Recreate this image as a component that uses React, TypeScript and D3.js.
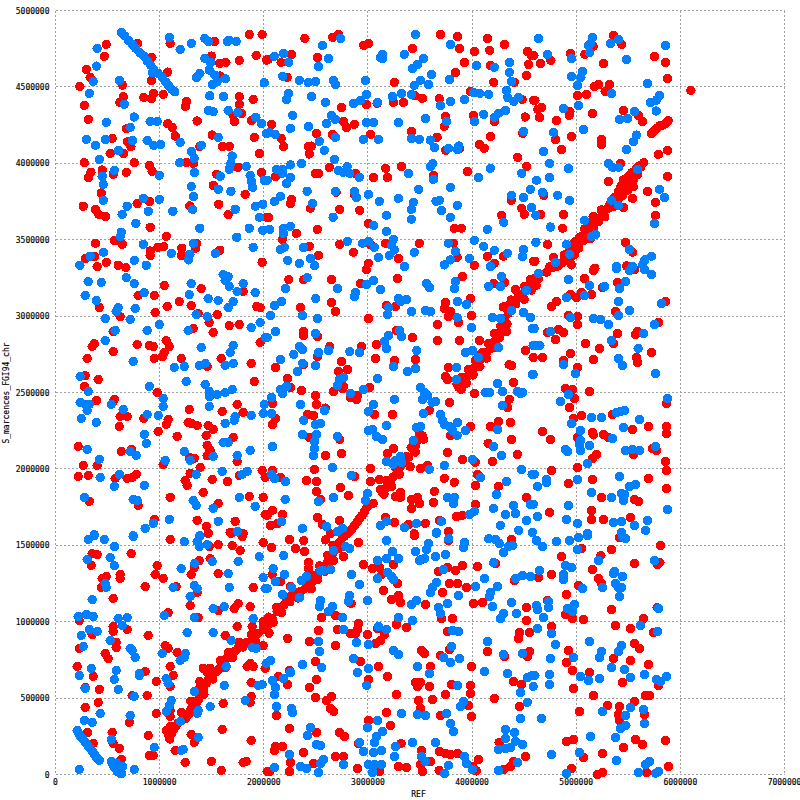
import { useEffect, useRef } from "react";
import * as d3 from "d3";

type Pt = [number, number];

// all values below are in kb (REF position, query position)
const xTicks = [0, 1000000, 2000000, 3000000, 4000000, 5000000, 6000000, 7000000];
const yTicks = [0, 500000, 1000000, 1500000, 2000000, 2500000, 3000000, 3500000, 4000000, 4500000, 5000000];
const xTitle = "REF";
const yTitle = "S_marcences_FGI94_chr";

const redDiagonal: Pt[] = [[5649,4004],[5605,3982],[5563,3945],[5531,3913],[5499,3880],[5467,3847],[5425,3815],[5387,3782],[5349,3745],[5307,3706],[5259,3673],[5195,3640],[5147,3596],[5099,3553],[5051,3520],[5003,3466],[4955,3422],[4907,3389],[4859,3346],[4811,3324],[5547,3847],[5451,3891],[5163,3651],[4955,3335],[4747,3324],[5520,3860],[5480,3830],[5410,3775],[5120,3570],[5075,3530],[5025,3490],[4980,3440],[4930,3400],[4880,3360],[4830,3330],
[4779,3320],[4715,3287],[4635,3244],[4587,3211],[4592,3244],[4544,3200],[4480,3135],[4400,3102],[4336,3047],[4310,2982],[4304,2917],[4240,2851],[4176,2786],[4112,2742],[4048,2688],[3984,2633],[3920,2579],[3872,2535],[3952,2601],[4144,2764],[4208,2830],[4272,2895],[4438,3113],[4510,3170],[4360,3075],[4080,2715],[4015,2660],[3895,2556],
[3520,2219],[3472,2186],[3434,2132],[3392,2077],[3328,2034],[3280,1990],[3242,1947],[3200,1903],[3136,1849],[3168,1870],[3450,2160],[3360,2056],[3305,2012],[3220,1925],
[2992,1750],[2944,1696],[2896,1652],[2848,1609],[2800,1576],[2970,1725],[2920,1675],[2872,1630],[2825,1590],[2775,1560],[2752,1546],[2720,1514],[2688,1492],[2640,1415],[2608,1383],[2592,1535],[2560,1350],[2528,1322],[2496,1296],[2464,1263],[2432,1230],[2400,1219],[2352,1197],[2304,1165],[2256,1165],[2224,1143],[2192,1110],[2160,1088],[2128,1067],[2080,1023],[2032,969],[2665,1450],[2580,1365],[2515,1310],[2450,1245],
[2026,958],[1994,947],[1946,925],[1898,881],[1834,864],[1786,860],[1754,827],[1722,805],[1674,783],[1642,761],[1610,729],[1578,696],[1546,674],[1498,652],[1482,696],[1466,620],[1450,598],[1424,554],[1418,696],[1402,522],[1386,609],[1370,489],[1354,467],[1322,456],[1290,413],[1274,391],[1232,376],[1178,336],[1130,293],[1104,315],[1098,232],[1066,288],[1085,260],[1115,270],[1150,312],[1205,352],[1255,395],[1305,435],[1345,480]];

// the thicker parts of the diagonal band, read from its edges
const redDiagonalEdges: Pt[] = [[5620,3975],[5575,3965],[5590,3925],[5535,3940],[5550,3890],[5500,3915],[5525,3850],[5455,3860],[5495,3825],[5430,3850],[5445,3790],[5405,3815],[5395,3750],[5365,3775],[5355,3715],[5325,3735],[5275,3650],[5240,3695],[5215,3620],[5170,3650],[5165,3575],[5125,3610],[5120,3535],[5080,3570],[5070,3495],[5030,3515],[5025,3445],[4985,3485],[4980,3400],[4935,3440],[4930,3365],[4885,3400],
[4615,3200],[4560,3240],[4570,3170],[4505,3195],[4500,3110],[4450,3140],[4420,3080],[4375,3105],[4350,3020],[4300,3060],[4335,2950],[4285,2985],[4330,2900],[4275,2935],[4265,2860],[4215,2885],[4205,2795],[4155,2820],[4140,2725],[4095,2760],[4075,2670],[4030,2710],[4010,2615],[3965,2650],[3945,2560],[3900,2600],[3895,2520],[3855,2555],
[3535,2195],[3495,2225],[3455,2110],[3415,2140],[3405,2015],[3365,2080],[3300,1965],[3260,2010],[3225,1885],[3180,1925],[3155,1835],[3120,1865],
[2720,1480],[2665,1500],[2670,1400],[2615,1435],[2585,1330],[2535,1365],[2515,1275],[2470,1305],[2455,1215],[2415,1245],[2330,1155],[2300,1190],[2250,1130],[2210,1160],[2170,1060],[2125,1095],[2090,995],[2045,1030],
[2050,925],[2000,980],[1920,870],[1880,915],[1800,835],[1760,865],[1700,765],[1660,800],[1630,700],[1585,745],[1510,625],[1460,665],[1425,525],[1385,565],[1345,440],[1300,480],[1250,365],[1210,405]];

const redUpperLeft: Pt[] = [[1860,4843],[1984,4843],[1527,4798],[1101,4785],[788,4785],[487,4778],[468,4700],[925,4693],[1498,4702],[1927,4706],[1764,4673],[1578,4654],[1636,4660],[2026,4676],[295,4615],[333,4562],[1076,4597],[1578,4571],[922,4543],[234,4503],[644,4512],[650,4436],[618,4399],[848,4431],[922,4423],[944,4458],[1034,4451],[1258,4405],[1248,4373],[276,4379],[1764,4436],[1764,4386],[1898,4418],[314,4288],[1786,4327],[1706,4312],[1719,4272],[1360,4277],[1079,4259],[1120,4235],[682,4226],[1882,4279],[1149,4179],[1504,4185],[1908,4170],[544,4163],[692,4141],[724,4109],[1604,4111],[1668,4111],[1386,4109],[525,4065],[653,4063],[1959,4065],[276,4004],[756,4004],[1258,4004],[1325,4000],[900,3987],[928,3947],[448,3956],[340,3941],[314,3906],[554,3928],[679,3941],[1978,3941],[1751,3974],[1549,3928],[1514,3856],[439,3806],[1821,3797],[903,3751],[784,3736],[266,3719],[1568,3732],[1290,3721],[384,3699],[416,3666],[480,3651],[1658,3664],[2026,3647],[909,3581],[1063,3522],[564,3494],[384,3477],[640,3470],[1354,3477],[1344,3444],[983,3450],[1040,3455],[909,3426],[909,3396],[1213,3444],[1207,3396],[1578,3431],[288,3378],[375,3389],[487,3352],[1984,3352],[400,3324],[602,3333],[676,3318]];

const redUpperMiddle: Pt[] = [[2394,4817],[2662,4824],[2717,4843],[2960,4772],[3005,4785],[3696,4843],[3859,4830],[4147,4817],[4310,4778],[3427,4752],[3878,4752],[4022,4732],[4170,4739],[4531,4732],[4570,4706],[2266,4713],[2515,4693],[2042,4680],[2166,4660],[3926,4660],[4176,4641],[4544,4647],[3840,4595],[2224,4562],[4522,4575],[3254,4530],[4208,4530],[4406,4530],[3984,4471],[3453,4442],[3523,4425],[3686,4423],[2986,4386],[3088,4392],[3245,4399],[3341,4399],[4480,4418],[4592,4412],[2746,4366],[2077,4255],[2765,4274],[2794,4235],[2870,4255],[3744,4307],[3734,4242],[4013,4314],[4214,4274],[4512,4303],[3418,4209],[2506,4196],[2659,4189],[3027,4189],[3664,4170],[4176,4176],[4486,4196],[2166,4163],[2192,4109],[2429,4111],[2458,4113],[2438,4061],[4070,4124],[4118,4098],[3747,4085],[3882,4098],[4438,4039],[2630,3974],[3171,3967],[3322,3980],[4525,3980],[2496,3934],[2528,3934],[2880,3934],[3955,3947],[2112,3913],[3053,3908],[3187,3908],[3629,3921],[2694,3810],[2874,3793],[2256,3738],[2269,3764],[4378,3758],[2448,3706],[2730,3699],[2922,3692],[4477,3706],[4502,3666],[2048,3647],[4285,3660],[3005,3607],[2515,3568],[2314,3542],[3830,3575],[3898,3575],[2179,3503],[2438,3457],[2730,3470],[3168,3477],[3494,3477],[3821,3477],[3024,3470],[2861,3418],[2525,3398],[3293,3378],[3856,3385],[4147,3392],[4214,3346],[4301,3392],[4022,3333],[3005,3346],[4592,3359]];

const redUpperRight: Pt[] = [[5358,4837],[5438,4778],[5163,4765],[4945,4719],[5083,4713],[4593,4706],[5752,4700],[5857,4660],[4757,4673],[4657,4654],[5262,4654],[5877,4556],[5217,4516],[5173,4501],[5320,4516],[5278,4471],[6101,4477],[5013,4444],[5099,4451],[4603,4412],[4667,4366],[4632,4353],[4939,4338],[4933,4314],[4648,4301],[5157,4327],[5454,4346],[4811,4281],[5598,4314],[5637,4274],[4955,4176],[4801,4157],[5243,4157],[5243,4122],[4859,4091],[5877,4085],[5790,4059],[5425,4000],[5877,3915],[5310,3882],[5685,3817],[4689,3791],[5541,3771],[5761,3745],[5454,3712],[4657,3666],[4878,3666],[5761,3660],[4869,3575],[5137,3509],[4725,3470],[5473,3483],[5541,3418],[4782,3385],[4603,3359],[5179,3313],[5483,3328],[5723,4196],[5745,4212],[5771,4229],[5800,4245],[5835,4251],[5860,4262],[5883,4279]];

const redMiddleLeft: Pt[] = [[1044,3200],[1399,3180],[1802,3161],[794,3135],[948,3135],[1188,3095],[1072,3063],[1303,3069],[420,3056],[1933,3063],[1965,3056],[957,3024],[1370,3017],[1552,3010],[621,2997],[1476,2958],[1668,2938],[1764,2945],[1322,2919],[554,2899],[1514,2893],[1965,2827],[372,2819],[352,2801],[784,2814],[900,2808],[938,2801],[1063,2840],[1092,2801],[554,2768],[1044,2762],[1028,2736],[948,2723],[304,2723],[1207,2723],[1591,2723],[1879,2690],[1456,2670],[285,2611],[410,2585],[1908,2572],[276,2540],[976,2500],[1482,2474],[564,2455],[554,2441],[394,2448],[1744,2422],[1284,2389],[1600,2376],[1802,2370],[621,2343],[688,2343],[848,2330],[1082,2324],[1063,2291],[1274,2304],[1303,2298],[1360,2284],[1466,2284],[1514,2258],[612,2278],[986,2245],[1168,2213],[1447,2219],[1706,2206],[218,2147],[1456,2154],[1485,2121],[1456,2086],[631,2114],[727,2128],[1284,2075],[1332,2069],[1744,2049],[266,2023],[400,2023],[1034,2029],[1389,2010],[1984,1990],[218,1951],[314,1957],[573,1938],[688,1938],[736,1944],[775,1964],[1293,1971],[2013,1944],[1245,1925],[1264,1892],[1504,1931],[1652,1918],[1764,1957],[1418,1846],[1101,1814],[1860,1820],[1994,1814],[324,1787],[794,1761],[1562,1774],[2013,1702],[948,1670],[1360,1663],[1725,1657],[1447,1624],[1466,1580],[1677,1585],[1802,1576]];

const redCentre: Pt[] = [[2986,3303],[2240,3239],[2384,3239],[2650,3239],[2928,3213],[3283,3246],[3910,3259],[4208,3213],[4310,3220],[4416,3174],[3984,3115],[3178,3069],[3264,3063],[2650,3089],[2352,3056],[2688,3030],[3744,3089],[3734,3050],[3792,3030],[3773,2997],[3994,3004],[3005,2984],[3667,2945],[3869,2958],[3274,2906],[2381,2899],[2381,2873],[2515,2867],[3427,2860],[3667,2840],[3878,2840],[4070,2840],[3082,2814],[2938,2801],[2634,2801],[4512,2775],[2515,2736],[3072,2723],[3254,2710],[3456,2716],[2746,2703],[2381,2683],[4355,2683],[4378,2677],[2112,2664],[3773,2664],[2717,2638],[2803,2651],[3744,2605],[3763,2585],[2227,2592],[4397,2566],[2765,2540],[2755,2526],[2256,2533],[2362,2513],[3014,2533],[2669,2507],[2496,2481],[2832,2468],[2890,2455],[2899,2481],[4022,2494],[2506,2422],[3782,2435],[2083,2428],[2592,2398],[4358,2455],[4339,2402],[2419,2356],[2477,2350],[3062,2356],[3235,2356],[3590,2383],[2112,2330],[2083,2291],[4253,2311],[4368,2304],[4176,2278],[3984,2278],[2438,2206],[3792,2219],[2730,2193],[4378,2193],[3514,2213],[3456,2154],[4154,2167],[3187,2101],[3245,2134],[3763,2108],[2592,2088],[2746,2101],[4435,2095],[3907,2062],[4032,2043],[4195,2049],[2486,1997],[3024,2003],[3504,2003],[3571,2023],[2083,1990],[2160,1944],[2410,1925],[2506,1918],[2870,1951],[3734,1938],[3830,1912],[4051,1964],[4032,1892],[3024,1918],[3110,1931],[4253,1886],[2506,1853],[2736,1879],[2813,1827],[3264,1820],[3312,1846],[3312,1814],[3418,1800],[3475,1814],[3418,1742],[3494,1774],[3638,1853],[3629,1781],[4522,1814],[2544,1800],[4032,1768],[2083,1729],[2179,1702],[2032,1696],[2515,1683],[2726,1663],[3168,1683],[3850,1689],[3907,1696],[2064,1630],[2128,1641],[2563,1637],[3254,1650],[3389,1637],[3552,1644],[3686,1663],[3773,1591],[3446,1576],[2640,1576],[3050,1774]];

const redMiddleRight: Pt[] = [[5080,3246],[5166,3298],[5253,3187],[5397,3220],[5560,3303],[4945,3141],[5003,3122],[5051,3154],[5147,3141],[5857,3095],[4811,3095],[4763,3063],[5377,3030],[4926,3004],[5013,2997],[5013,2945],[5790,2958],[4830,2912],[4878,2893],[4725,2893],[5397,2886],[5589,2899],[5569,2880],[4801,2847],[5089,2821],[5358,2821],[5224,2788],[5723,2762],[4945,2755],[4677,2729],[4587,2729],[5166,2716],[4878,2710],[5579,2729],[5589,2697],[5013,2664],[4897,2526],[4965,2520],[5128,2507],[4984,2461],[4936,2402],[5867,2428],[5051,2350],[4974,2330],[5349,2356],[5867,2278],[5867,2232],[5694,2278],[5541,2258],[4677,2245],[5157,2239],[5166,2223],[5262,2226],[5310,2206],[4753,2193],[5013,2206],[5771,2121],[5733,2134],[5550,2095],[5195,2095],[5157,2069],[5857,2049],[5013,2010],[5867,1990],[4763,1990],[4926,1905],[5157,1931],[5694,1938],[5867,1872],[5243,1814],[5560,1800],[5598,1787],[4744,1716],[5147,1729],[5147,1670],[5262,1670],[5521,1683]];

const redLowerLeft: Pt[] = [[1101,1538],[1466,1579],[1687,1579],[1792,1557],[1994,1518],[1696,1498],[1773,1466],[1562,1505],[1476,1492],[727,1446],[352,1446],[400,1439],[1485,1413],[1380,1400],[1332,1354],[1303,1309],[343,1368],[976,1367],[957,1309],[1034,1283],[621,1309],[621,1283],[487,1296],[448,1283],[1562,1315],[861,1230],[439,1224],[1159,1230],[1898,1224],[1360,1191],[554,1152],[1293,1106],[1869,1099],[1754,1119],[1716,1086],[1562,1073],[1082,1060],[1370,1027],[228,1008],[1994,1001],[554,969],[554,936],[688,949],[1744,969],[1888,969],[352,916],[890,910],[1629,910],[583,864],[583,831],[228,825],[1053,844],[1082,825],[1994,844],[1168,799],[477,792],[506,759],[208,707],[1101,707],[1130,648],[1869,727],[1840,707],[1898,707],[2013,694],[861,674],[362,642],[967,609],[1879,602],[285,570],[420,557],[1101,576],[736,517],[880,517],[1879,511],[1869,472],[410,472],[1610,465],[285,439],[1101,419],[1101,380],[967,400],[708,341],[307,275],[1600,295],[544,275],[1303,262],[1332,210],[890,256],[362,203],[554,203],[612,171],[1879,223],[900,125],[938,125],[1149,158],[631,99],[1245,79],[1495,86],[1802,79],[1831,86],[1591,27],[2032,20]];

const redLowerMiddle: Pt[] = [[2246,1538],[2384,1531],[2074,1485],[2304,1479],[2390,1459],[2909,1518],[3446,1564],[4378,1538],[3773,1531],[2765,1426],[2957,1374],[3043,1348],[3110,1354],[3130,1306],[3245,1374],[3514,1407],[3677,1328],[3763,1354],[3840,1335],[3907,1367],[4051,1361],[4224,1381],[2429,1387],[2429,1348],[2080,1309],[3286,1250],[3782,1250],[3859,1250],[3946,1224],[4406,1269],[2160,1263],[2256,1230],[3149,1204],[3226,1145],[3293,1171],[3312,1126],[3715,1191],[2838,1119],[3552,1112],[4013,1119],[4099,1126],[4522,1093],[2688,1041],[2554,1027],[3706,1021],[3811,1021],[4522,1008],[2909,988],[2899,949],[2832,923],[2880,923],[3274,982],[3370,962],[2525,942],[2707,949],[2995,916],[3091,955],[3158,916],[3120,877],[3072,857],[3763,936],[4550,929],[4454,929],[4445,890],[2230,890],[2438,871],[2688,844],[3782,818],[3514,812],[3542,792],[4147,805],[4550,805],[4531,772],[4310,772],[3696,779],[2928,740],[2496,740],[3600,707],[3994,707],[3101,707],[2246,681],[2141,642],[3187,642],[2506,622],[3005,622],[3456,602],[3475,576],[3504,602],[4397,609],[3802,589],[3984,583],[4474,589],[2227,589],[2438,570],[3590,576],[3984,530],[3744,524],[3274,524],[4214,498],[2496,504],[3619,491],[3485,485],[3504,432],[2650,511],[2602,485],[2640,432],[2672,413],[4454,445],[3965,452],[3178,406],[3696,387],[3994,380],[2122,387],[3005,354],[2246,302],[3216,321],[2506,275],[2726,275],[2774,249],[3318,203],[4259,210],[2112,184],[2179,184],[2102,158],[2909,203],[3514,158],[2381,145],[3686,151],[3744,138],[3792,131],[3859,138],[4512,118],[2688,118],[2765,118],[2256,79],[3600,86],[3504,66],[2477,72],[4397,86],[4368,53],[3293,53],[3370,46],[2899,40],[3523,20],[4061,99],[4003,53],[4042,23],[4304,33],[3683,27],[2054,20],[2246,20],[3110,20]];

const redLowerRight: Pt[] = [[5416,1551],[5051,1479],[5339,1472],[5809,1498],[4859,1426],[5237,1433],[5560,1381],[5781,1374],[5803,1387],[5157,1341],[4763,1309],[4638,1289],[5214,1283],[5243,1250],[5022,1237],[4907,1178],[4725,1139],[5777,1093],[5339,1080],[4897,1047],[4965,1021],[5070,1014],[5646,1021],[4763,969],[5377,975],[5521,956],[5742,929],[5560,857],[5608,825],[4926,812],[5358,759],[5521,746],[4907,733],[5694,720],[4965,681],[5128,668],[5445,602],[5790,583],[4974,563],[5166,517],[5665,517],[5704,517],[5560,478],[5301,452],[5416,445],[5032,413],[5656,393],[5406,393],[5416,354],[5857,223],[4907,217],[4974,229],[5569,230],[5637,197],[5454,177],[5253,138],[5070,112],[5886,53],[4955,40],[5253,14],[5205,1],[5675,14]];

const blueUpperLeft: Pt[] = [[634,4857],[666,4833],[698,4806],[736,4780],[772,4752],[810,4724],[848,4702],[880,4671],[912,4643],[944,4615],[986,4588],[1024,4562],[1056,4534],[1088,4508],[1117,4484],[1146,4468],[1092,4824],[1303,4785],[1197,4745],[1434,4817],[1469,4798],[1652,4798],[1665,4805],[1735,4798],[400,4752],[394,4636],[1434,4686],[1488,4660],[1476,4610],[1530,4577],[1386,4588],[1354,4562],[1632,4553],[1508,4516],[1552,4534],[362,4536],[615,4543],[932,4593],[324,4458],[2004,4527],[1482,4442],[1613,4436],[660,4386],[1469,4346],[1514,4338],[1658,4346],[1751,4333],[756,4303],[487,4268],[909,4274],[976,4274],[1924,4301],[1978,4261],[717,4235],[295,4157],[480,4157],[384,4118],[740,4150],[880,4150],[944,4118],[1008,4124],[1197,4137],[1399,4118],[1562,4170],[2026,4196],[605,4085],[420,4026],[1306,4076],[1332,4032],[1696,4048],[1684,4000],[1668,3961],[1194,4004],[1831,3980],[564,3954],[448,3915],[996,3921],[1335,3941],[1581,3915],[1869,3921],[1882,3880],[1892,3843],[2004,3889],[458,3862],[1303,3849],[1562,3830],[1684,3817],[1325,3784],[842,3771],[996,3764],[458,3758],[1991,3732],[1920,3719],[688,3719],[1316,3699],[890,3686],[1127,3686],[1725,3699],[640,3666],[1959,3647],[772,3607],[1386,3575],[1860,3575],[1991,3562],[631,3549],[621,3520],[1741,3516],[842,3470],[1325,3477],[1898,3450],[461,3418],[1111,3411],[1290,3405],[1277,3368],[1536,3411],[333,3392],[756,3365],[234,3333],[871,3333]];

const blueUpperMiddle: Pt[] = [[3456,4843],[2739,4817],[2563,4772],[3792,4778],[2102,4700],[2189,4719],[2240,4660],[2621,4686],[2525,4634],[3142,4713],[3120,4693],[3139,4684],[3350,4713],[3533,4686],[3475,4647],[3427,4621],[4358,4660],[4042,4641],[4214,4628],[4358,4595],[2182,4569],[2342,4543],[2429,4530],[2496,4536],[2669,4543],[2688,4516],[2976,4543],[3610,4582],[3782,4549],[4378,4536],[3504,4543],[3446,4510],[3581,4516],[2237,4458],[2218,4418],[2458,4436],[2986,4451],[3322,4458],[3235,4438],[3418,4451],[2592,4399],[2861,4392],[2928,4412],[3091,4399],[3792,4405],[3926,4418],[3696,4379],[4013,4464],[4074,4458],[4160,4451],[4330,4477],[4342,4431],[4400,4405],[4448,4431],[4320,4346],[4253,4327],[4214,4301],[2278,4314],[2650,4314],[2688,4288],[2602,4261],[2429,4242],[2256,4229],[2986,4268],[3053,4268],[3293,4268],[3552,4294],[3754,4274],[4022,4274],[4112,4320],[2054,4203],[2109,4189],[4493,4209],[2688,4170],[2957,4157],[3101,4157],[3418,4163],[3494,4157],[3600,4152],[3638,4104],[2534,4144],[2582,4085],[3773,4098],[3859,4091],[3872,4113],[2678,4026],[2362,3998],[2256,3989],[2182,3961],[2122,3961],[2176,3934],[2717,3952],[2800,3978],[2762,3941],[2826,3934],[2918,3908],[3622,3998],[3600,3980],[3389,3934],[3629,3895],[4176,3967],[4061,3908],[4477,3934],[2256,3908],[2218,3869],[2032,3889],[3488,3830],[3792,3843],[2416,3817],[2688,3817],[2870,3817],[2890,3777],[3005,3797],[2160,3784],[2102,3751],[2467,3738],[3110,3751],[3293,3771],[3437,3745],[3418,3699],[3686,3758],[3654,3751],[3859,3725],[3706,3692],[4378,3791],[4493,3777],[4560,3830],[4570,3712],[3178,3660],[2666,3647],[3792,3647],[3418,3634],[4304,3614],[3056,3594],[2256,3588],[2189,3575],[2189,3542],[2058,3568],[3178,3555],[4147,3568],[2803,3490],[2947,3477],[3005,3490],[3062,3450],[3245,3503],[3226,3464],[3254,3433],[3773,3477],[4022,3496],[4112,3457],[4214,3431],[2198,3450],[2160,3437],[2381,3450],[3446,3418],[3840,3424],[4339,3411],[4493,3437],[4483,3389],[2230,3365],[2342,3346],[2448,3378],[2490,3330],[3101,3385],[3206,3398],[3974,3378],[3792,3368],[3734,3335],[4176,3324],[3350,3324]];

const blueUpperRight: Pt[] = [[4638,4817],[5157,4824],[5137,4785],[5115,4772],[5329,4785],[5406,4811],[5857,4772],[4725,4713],[5128,4726],[4955,4686],[5483,4680],[5061,4601],[5045,4562],[4955,4569],[5013,4510],[5685,4523],[5339,4458],[5800,4444],[5771,4414],[5713,4399],[5022,4379],[4878,4360],[5768,4342],[5560,4340],[5416,4288],[5493,4294],[5070,4222],[4782,4203],[5579,4185],[5550,4141],[5483,4091],[4686,4078],[4744,4000],[5310,4000],[5349,3974],[5406,3974],[4926,3967],[5589,3961],[4744,3908],[4619,3889],[4677,3810],[4821,3791],[4936,3758],[5800,3830],[5848,3777],[5339,3758],[5406,3725],[4613,3660],[5080,3627],[5752,3607],[4753,3583],[5185,3535],[5147,3520],[4613,3483],[4907,3470],[5512,3437],[4936,3405],[5723,3392],[5659,3368],[5637,3335],[4801,3352],[5387,3324],[5541,3324]];

const blueMiddleLeft: Pt[] = [[314,3226],[439,3220],[679,3252],[756,3213],[1610,3272],[1658,3259],[1629,3233],[1668,3194],[1303,3213],[1802,3213],[1744,3161],[1917,3154],[285,3135],[852,3154],[1284,3141],[391,3102],[1466,3115],[1562,3102],[1706,3095],[1658,3056],[765,3050],[602,3056],[583,3030],[1351,3010],[1456,2997],[477,2984],[717,2978],[996,2945],[1965,2958],[1879,2925],[880,2906],[573,2906],[1274,2906],[2013,2860],[477,2840],[1399,2795],[1706,2808],[1677,2762],[746,2703],[1437,2690],[1380,2677],[1236,2670],[1140,2664],[1629,2677],[1706,2690],[237,2605],[1255,2572],[900,2540],[1437,2553],[314,2507],[1034,2461],[1034,2409],[1476,2507],[1476,2474],[1552,2487],[1629,2500],[1696,2520],[237,2435],[285,2422],[324,2422],[304,2383],[535,2422],[650,2389],[1476,2409],[2004,2422],[1994,2363],[880,2356],[986,2350],[1879,2350],[1725,2343],[1716,2317],[247,2330],[391,2304],[1629,2298],[852,2226],[871,2167],[1610,2173],[1658,2173],[304,2128],[1236,2114],[1869,2121],[717,2114],[775,2088],[1744,2088],[420,2062],[1293,2056],[1514,2082],[1053,2056],[1600,1984],[612,1964],[1351,1964],[429,1944],[1840,1984],[1792,1964],[564,1886],[852,1892],[1764,1814],[276,1814],[746,1800],[784,1794],[1322,1794],[1351,1761],[1917,1755],[1514,1742],[1092,1670],[938,1644],[1562,1657],[861,1611],[1744,1591],[372,1569],[746,1563],[1386,1563]];

const blueCentre: Pt[] = [[2416,3252],[2208,3180],[2707,3180],[2986,3207],[3053,3233],[3120,3174],[3562,3213],[3590,3187],[3840,3226],[3830,3180],[4282,3259],[4272,3194],[4160,3194],[4522,3167],[2880,3154],[2870,3128],[2499,3115],[3293,3115],[3312,3095],[3370,3109],[2170,3095],[2102,3069],[3859,3095],[3946,3076],[2064,3004],[2371,3004],[2515,2984],[3197,3056],[3187,3010],[3418,3030],[3552,3037],[3600,3030],[3856,2991],[4195,2991],[4272,2984],[4378,3037],[4493,3024],[4560,2991],[3994,2925],[4579,2919],[2112,2899],[2496,2886],[3302,2906],[3322,2867],[3197,2873],[3158,2834],[2032,2860],[3178,2788],[4253,2795],[4586,2808],[2342,2801],[2371,2782],[2621,2775],[2525,2762],[2826,2768],[2918,2762],[3469,2775],[3936,2762],[4003,2775],[4061,2729],[2288,2749],[2160,2716],[2496,2677],[2374,2690],[3245,2670],[3850,2664],[2323,2638],[3456,2657],[3379,2638],[4579,2618],[2765,2598],[2726,2585],[2707,2546],[3091,2592],[3850,2585],[2160,2520],[2218,2540],[2179,2494],[2832,2494],[2957,2520],[4243,2559],[4291,2507],[4125,2500],[4170,2500],[4435,2507],[4483,2500],[4464,2494],[3504,2533],[3542,2500],[3571,2481],[3523,2455],[3254,2455],[2074,2468],[3616,2435],[3648,2441],[2352,2422],[3053,2422],[3005,2376],[4291,2415],[2582,2383],[3533,2363],[2074,2363],[3696,2356],[3715,2317],[3734,2291],[3782,2278],[3811,2252],[3856,2219],[3859,2304],[2384,2317],[2544,2298],[2496,2291],[3178,2284],[3504,2278],[3466,2271],[4243,2258],[3936,2252],[3043,2258],[3005,2252],[3082,2213],[3139,2193],[2371,2226],[2506,2226],[2486,2180],[2486,2134],[2477,2088],[2707,2213],[3437,2186],[2083,2147],[4205,2147],[4282,2088],[4003,2062],[3178,2049],[3264,2056],[3312,2082],[3242,2029],[3322,2043],[3734,2023],[2659,2010],[3590,1997],[4474,1997],[4576,1964],[2074,1964],[2102,1938],[2208,1918],[2842,1957],[4080,1944],[4330,1918],[2995,1840],[2976,1794],[4234,1833],[2205,1800],[2669,1814],[2525,1787],[3763,1814],[3830,1814],[3821,1774],[4560,1768],[4397,1761],[4416,1709],[4205,1742],[4022,1722],[3974,1702],[4320,1702],[2170,1657],[4522,1663],[3178,1657],[3120,1630],[3706,1657],[3466,1644],[3350,1617],[2602,1624],[2371,1611],[2755,1611],[2707,1591],[4272,1631],[4448,1598],[3658,1585],[4579,1585]];

const blueMiddleRight: Pt[] = [[4638,3279],[5387,3311],[5512,3298],[5656,3305],[5723,3272],[4926,3239],[5128,3200],[5272,3194],[5473,3226],[5416,3180],[4907,3122],[5080,3135],[5406,3095],[5819,3082],[5512,3037],[5406,3004],[4945,2991],[5166,2984],[5233,2978],[5310,2945],[5752,2945],[4597,2919],[4753,2899],[5646,2886],[5339,2840],[4619,2808],[4651,2808],[5595,2788],[5406,2723],[5445,2677],[4878,2683],[4993,2625],[5761,2625],[4587,2618],[4926,2487],[4849,2441],[5877,2461],[5464,2383],[5425,2376],[5387,2370],[5147,2337],[5243,2337],[5608,2324],[4955,2298],[5454,2271],[5041,2252],[5349,2199],[5041,2186],[5032,2160],[5041,2121],[5128,2154],[4897,2128],[4917,2114],[5473,2121],[5541,2128],[5608,2121],[5761,2147],[5109,2036],[4597,1964],[5416,1951],[5013,1931],[4715,1931],[4715,1912],[4629,1886],[5569,1899],[5512,1886],[5147,1846],[5339,1814],[5435,1840],[5464,1833],[5454,1794],[4926,1761],[5877,1735],[4587,1768],[4629,1689],[4907,1670],[5013,1644],[5358,1650],[5435,1657],[5685,1663],[5560,1630],[5666,1598],[5435,1585],[5109,1576]];

const blueLowerLeft: Pt[] = [[314,1538],[372,1564],[468,1538],[746,1557],[1236,1524],[1360,1524],[1380,1492],[1386,1557],[1456,1505],[567,1492],[1956,1426],[525,1420],[304,1407],[1504,1394],[1754,1394],[1338,1381],[564,1367],[1207,1348],[1658,1315],[1994,1289],[477,1250],[487,1224],[1332,1237],[1360,1217],[1130,1224],[1668,1224],[2013,1217],[1293,1165],[352,1145],[1620,1099],[1514,1086],[218,1034],[298,1047],[362,1034],[1044,1041],[1332,1027],[602,1021],[688,1027],[1898,1021],[640,975],[324,949],[400,936],[1264,929],[1514,929],[247,910],[525,877],[1687,877],[266,838],[717,825],[736,812],[765,766],[1888,831],[1927,825],[1024,792],[1245,792],[1236,766],[1197,746],[343,694],[583,681],[1639,707],[2023,727],[804,661],[804,648],[228,648],[1063,628],[1082,596],[564,622],[285,563],[602,557],[1620,583],[1984,589],[1946,583],[1335,543],[756,511],[1822,485],[1111,485],[1092,452],[1485,445],[1063,413],[1370,419],[1360,400],[429,400],[717,387],[276,354],[352,341],[1197,347],[1370,243],[535,230],[948,177],[1207,158],[1226,164],[391,112],[756,33],[228,33],[208,288],[225,268],[240,249],[262,232],[282,216],[298,200],[314,184],[336,168],[356,151],[372,135],[388,118],[405,105],[420,92],[538,86],[552,65],[570,42],[592,20],[634,5],[644,53],[618,9],[586,75],[605,30]];

const blueLowerMiddle: Pt[] = [[3178,1531],[3776,1544],[3658,1579],[2192,1433],[2787,1492],[2826,1479],[2669,1466],[3581,1511],[3562,1472],[3542,1413],[3494,1400],[3456,1459],[3926,1518],[3917,1485],[4160,1544],[4224,1538],[4262,1511],[4387,1498],[4349,1492],[4301,1453],[3235,1459],[3178,1413],[3293,1413],[3091,1400],[3648,1426],[3744,1439],[4208,1387],[2090,1348],[2640,1341],[2576,1335],[2544,1333],[3725,1341],[3187,1322],[3226,1296],[3245,1276],[2842,1309],[2198,1309],[3091,1283],[4118,1283],[4416,1283],[4483,1302],[4560,1296],[2410,1296],[2362,1269],[2112,1263],[2918,1243],[3658,1256],[3619,1224],[3600,1191],[4032,1230],[4243,1230],[2032,1217],[2266,1224],[4176,1191],[4166,1165],[2179,1178],[3869,1171],[2822,1171],[2813,1132],[2342,1158],[2544,1139],[2534,1099],[2995,1139],[3466,1139],[3418,1112],[3763,1119],[4378,1126],[2659,1099],[2621,1067],[4195,1099],[3677,1093],[3696,1054],[4301,1054],[4272,1021],[4426,1054],[2755,1027],[3293,1027],[3427,1008],[2765,949],[3101,969],[3178,949],[3811,942],[3869,936],[2890,864],[3005,851],[2525,871],[4147,871],[2534,805],[3802,838],[3245,812],[3293,785],[4301,785],[4483,792],[3725,766],[3792,733],[3878,759],[2861,759],[2064,746],[2371,720],[3475,707],[2557,700],[3005,694],[2256,668],[2899,668],[4118,674],[3590,661],[4339,661],[4531,635],[4576,648],[2083,615],[2189,629],[2112,570],[2102,524],[2989,583],[3859,583],[4464,537],[4531,472],[3917,478],[3888,445],[2122,445],[2266,432],[2275,406],[3322,400],[3475,393],[3552,387],[3754,400],[4464,367],[3091,354],[2995,308],[3792,334],[3821,282],[2448,308],[2419,256],[3139,282],[4320,295],[4406,275],[3082,249],[3062,210],[4320,236],[3427,210],[3648,210],[2918,210],[2506,197],[2544,190],[3264,184],[4416,217],[4483,197],[4368,177],[4320,171],[4253,164],[3130,158],[3053,145],[2957,151],[2246,131],[3254,118],[3926,118],[3946,72],[3514,118],[3552,86],[4435,79],[2573,99],[2544,72],[2765,66],[3005,66],[3062,66],[3130,66],[3773,60],[2352,53],[2410,40],[2102,46],[2525,14],[3043,14],[3734,7],[4003,33],[4253,27]];

const blueLowerRight: Pt[] = [[4619,1531],[4677,1492],[4811,1524],[4936,1531],[5022,1551],[5109,1564],[5445,1557],[5473,1544],[5013,1472],[5214,1400],[5752,1400],[4897,1367],[4955,1354],[4648,1335],[4878,1309],[4878,1276],[5368,1328],[5358,1315],[5445,1296],[5061,1217],[5253,1224],[5377,1250],[5406,1224],[5435,1224],[5416,1165],[4734,1132],[4734,1093],[4619,1106],[4629,1080],[4984,1112],[4917,1086],[4965,1067],[5790,1086],[4686,1027],[5617,975],[4629,956],[4763,923],[5781,936],[5128,871],[4801,851],[5435,844],[5406,805],[5243,805],[5224,766],[4753,759],[4974,766],[5339,700],[5464,687],[4603,648],[4744,655],[5041,642],[5118,615],[5224,628],[5521,635],[5656,655],[5771,622],[5809,609],[5867,642],[4744,589],[4587,576],[5521,439],[5646,426],[5253,413],[5473,387],[5656,334],[4667,367],[5477,321],[5425,302],[5137,249],[5377,243],[5032,145],[4763,131],[5387,92],[5704,86],[5666,66],[4907,7],[5598,14],[5790,20],[5761,9]];

const redPoints = [redDiagonal, redDiagonalEdges, redUpperLeft, redUpperMiddle, redUpperRight, redMiddleLeft, redCentre, redMiddleRight, redLowerLeft, redLowerMiddle, redLowerRight].flat();
const bluePoints = [blueUpperLeft, blueUpperMiddle, blueUpperRight, blueMiddleLeft, blueCentre, blueMiddleRight, blueLowerLeft, blueLowerMiddle, blueLowerRight].flat();

export default function App() {
  const svgRef = useRef<SVGSVGElement>(null);

  useEffect(() => {
    if (!svgRef.current) return;
    document.body.style.margin = "0";

    const W = 800;
    const H = 800;
    const x = d3.scaleLinear().domain([0, 7000000]).range([55.5, 784.5]);
    const y = d3.scaleLinear().domain([0, 5000000]).range([774.5, 10.5]);
    const font = "'DejaVu Sans Mono', monospace";

    const svg = d3.select(svgRef.current);
    svg.selectAll("*").remove();
    svg.attr("viewBox", `0 0 ${W} ${H}`).attr("width", W).attr("height", H);

    svg.append("rect").attr("width", W).attr("height", H).attr("fill", "#fff");

    // dashed grid, one line per tick
    const grid = svg.append("g").attr("stroke", "#a0a0a0").attr("stroke-dasharray", "2 2").attr("shape-rendering", "crispEdges");
    grid.selectAll(".gx").data(xTicks).enter().append("line")
      .attr("x1", d => x(d)).attr("x2", d => x(d))
      .attr("y1", y(5000000)).attr("y2", y(0));
    grid.selectAll(".gy").data(yTicks).enter().append("line")
      .attr("y1", d => y(d)).attr("y2", d => y(d))
      .attr("x1", x(0)).attr("x2", x(7000000));

    const dots = svg.append("g").attr("shape-rendering", "crispEdges");
    const toX = (d: Pt) => x(d[0] * 1000);
    const toY = (d: Pt) => y(d[1] * 1000);
    dots.selectAll(".red").data(redPoints).enter().append("circle")
      .attr("cx", toX).attr("cy", toY).attr("r", 4.7).attr("fill", "#ff0000");
    dots.selectAll(".blue").data(bluePoints).enter().append("circle")
      .attr("cx", toX).attr("cy", toY).attr("r", 4.7).attr("fill", "#0080ff");

    // tick labels
    const labels = svg.append("g")
      .attr("font-family", font).attr("font-size", 8)
      .attr("fill", "#000").attr("stroke", "#000").attr("stroke-width", 0.15);
    labels.selectAll(".xl").data(xTicks).enter().append("text")
      .attr("x", d => x(d)).attr("y", 785)
      .attr("text-anchor", "middle")
      .text(d => String(d));
    labels.selectAll(".yl").data(yTicks).enter().append("text")
      .attr("x", 49.5).attr("y", d => y(d) + 3)
      .attr("text-anchor", "end")
      .text(d => String(d));

    labels.append("text").attr("x", 418.5).attr("y", 797)
      .attr("text-anchor", "middle")
      .text(xTitle);
    labels.append("text")
      .attr("transform", "translate(9,393) rotate(-90)")
      .attr("text-anchor", "middle")
      .text(yTitle);
  }, []);

  return <svg ref={svgRef} style={{ display: "block" }} />;
}
